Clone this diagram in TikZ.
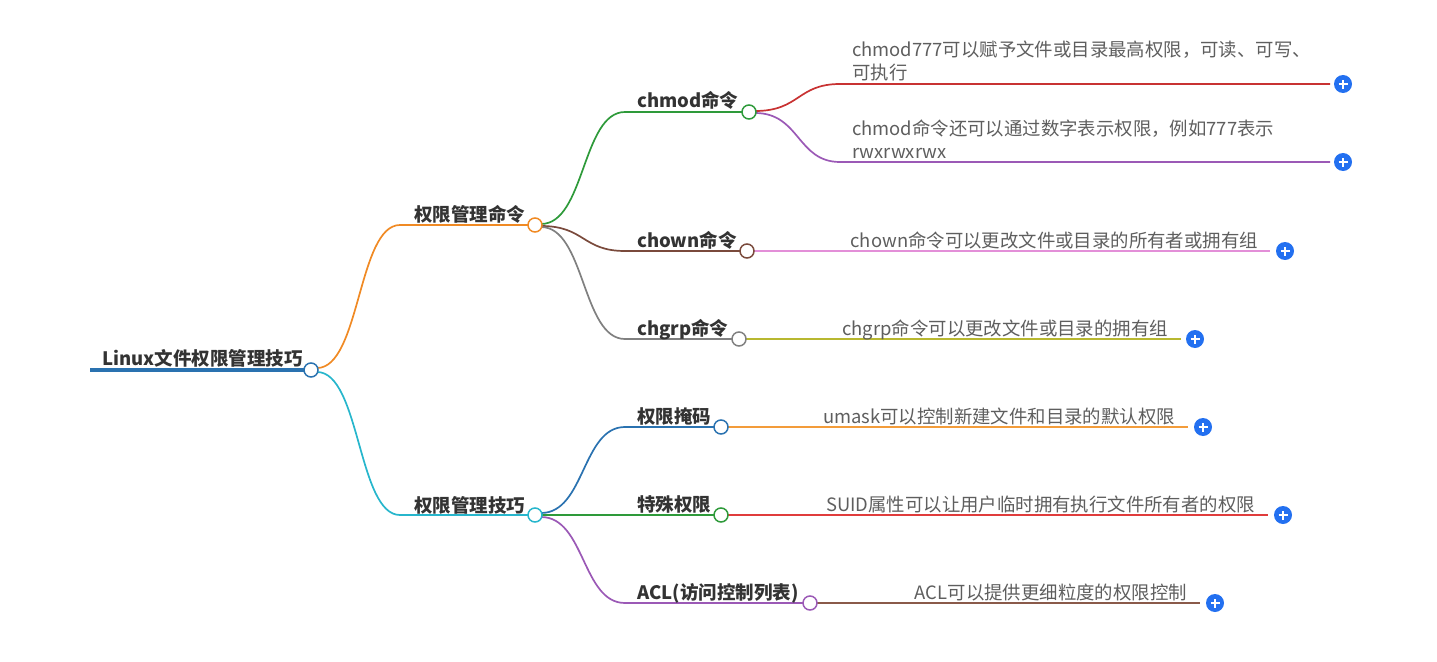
\documentclass[tikz,border=0pt]{standalone}
\usepackage{fontspec}
\setmainfont{Noto Sans CJK SC}
\definecolor{cblue}{HTML}{2A72B0}
\definecolor{corange}{HTML}{F08A24}
\definecolor{ccyan}{HTML}{27B6CC}
\definecolor{cgreen}{HTML}{2E9A3A}
\definecolor{cbrown}{HTML}{7A4A3C}
\definecolor{cgray}{HTML}{808080}
\definecolor{cred}{HTML}{C83232}
\definecolor{cpurple}{HTML}{9B59B6}
\definecolor{cpink}{HTML}{E38FD8}
\definecolor{colive}{HTML}{B8B830}
\definecolor{clorange}{HTML}{F39C3A}
\definecolor{clred}{HTML}{E03C3C}
\definecolor{clbrown}{HTML}{8A5A4A}
\definecolor{cplus}{HTML}{2370F0}
\definecolor{ctext}{HTML}{333333}
\definecolor{cleaf}{HTML}{5E5E5E}
\tikzset{
  dot/.style={circle, fill=white, line width=1.5pt, minimum size=14pt, inner sep=0pt},
  br/.style={line width=1.7pt},
  hd/.style={inner sep=0pt, anchor=base west, text=ctext, font=\fontsize{18.5}{23}\selectfont\bfseries},
  lf/.style={inner sep=0pt, anchor=base east, text=cleaf, font=\fontsize{18.4}{23}\selectfont},
  lfw/.style={inner sep=0pt, anchor=north west, text=cleaf, font=\fontsize{18.4}{23}\selectfont, align=left},
  plus/.style={circle, fill=cplus, minimum size=18pt, inner sep=0pt,
    path picture={\draw[white, line width=1.6pt] ([xshift=-4.5pt]path picture bounding box.center) -- ([xshift=4.5pt]path picture bounding box.center);
                  \draw[white, line width=1.6pt] ([yshift=-4.5pt]path picture bounding box.center) -- ([yshift=4.5pt]path picture bounding box.center);}},
}
\begin{document}
\begin{tikzpicture}[x=1pt, y=-1pt]
\useasboundingbox (0,0) rectangle (1437,661);
% ---------- coordinates ----------
\coordinate (r0) at (90,370);
\coordinate (a1s) at (400,225);
\coordinate (a2s) at (400,515);
\coordinate (b1s) at (625,112);
\coordinate (b2s) at (625,251);
\coordinate (b3s) at (625,339);
\coordinate (b4s) at (625,427);
\coordinate (b5s) at (625,515);
\coordinate (b6s) at (625,603);
\coordinate (l1s) at (840,84);
\coordinate (l2s) at (840,162);
% ---------- root ----------
\draw[cblue, line width=4.5pt] (r0) -- (311,370);
% level 1 curves
\draw[corange, br] (317,368) .. controls (360,368) and (358,225) .. (a1s) -- (535,225);
\draw[ccyan, br] (317,372) .. controls (360,372) and (358,515) .. (a2s) -- (535,515);
% level 2 curves
\draw[cgreen, br] (541,224) .. controls (585,224) and (582,112) .. (b1s) -- (749,112);
\draw[cbrown, br] (541,226) .. controls (585,226) and (582,251) .. (b2s) -- (747,251);
\draw[cgray, br] (541,227) .. controls (585,227) and (582,339) .. (b3s) -- (739,339);
\draw[cblue, br] (541,513) .. controls (585,513) and (582,427) .. (b4s) -- (721,427);
\draw[cgreen, br] (541,515) -- (b5s) -- (721,515);
\draw[cpurple, br] (541,517) .. controls (585,517) and (582,603) .. (b6s) -- (810,603);
% leaf curves and lines
\draw[cred, br] (755,111) .. controls (800,111) and (797,84) .. (l1s) -- (1330,84);
\draw[cpurple, br] (755,113) .. controls (800,113) and (797,162) .. (l2s) -- (1330,162);
\draw[cpink, br] (747,251) -- (1270,251);
\draw[colive, br] (739,339) -- (1181,339);
\draw[clorange, br] (721,427) -- (1188,427);
\draw[clred, br] (721,515) -- (1268,515);
\draw[clbrown, br] (810,603) -- (1200,603);
% ---------- circles ----------
\node[dot, draw=cblue] (c0) at (311,370) {};
\node[dot, draw=corange] (c1) at (535,225) {};
\node[dot, draw=ccyan] (c2) at (535,515) {};
\node[dot, draw=cgreen] (d1) at (749,112) {};
\node[dot, draw=cbrown] (d2) at (747,251) {};
\node[dot, draw=cgray] (d3) at (739,339) {};
\node[dot, draw=cblue] (d4) at (721,427) {};
\node[dot, draw=cgreen] (d5) at (721,515) {};
\node[dot, draw=cpurple] (d6) at (810,603) {};
% ---------- headings ----------
\node[hd] (t0) at (102,365) {Linux文件权限管理技巧};
\node[hd] (t1) at (414,221) {权限管理命令};
\node[hd] (t2) at (414,512) {权限管理技巧};
\node[hd] (s1) at (637,107) {chmod命令};
\node[hd] (s2) at (637,247) {chown命令};
\node[hd] (s3) at (637,335) {chgrp命令};
\node[hd] (s4) at (637,423) {权限掩码};
\node[hd] (s5) at (637,511) {特殊权限};
\node[hd] (s6) at (637,599) {ACL(访问控制列表)};
% ---------- leaves ----------
\node[lfw] (f1) at (852,41) {chmod777可以赋予文件或目录最高权限，可读、可写、\\可执行};
\node[lfw] (f2) at (852,120) {chmod命令还可以通过数字表示权限，例如777表示\\rwxrwxrwx};
\node[lf] (f3) at (1258,247) {chown命令可以更改文件或目录的所有者或拥有组};
\node[lf] (f4) at (1168,335) {chgrp命令可以更改文件或目录的拥有组};
\node[lf] (f5) at (1175,423) {umask可以控制新建文件和目录的默认权限};
\node[lf] (f6) at (1255,511) {SUID属性可以让用户临时拥有执行文件所有者的权限};
\node[lf] (f7) at (1187,599) {ACL可以提供更细粒度的权限控制};
% ---------- plus icons ----------
\node[plus] (p1) at (1343,84) {};
\node[plus] (p2) at (1343,162) {};
\node[plus] (p3) at (1285,251) {};
\node[plus] (p4) at (1195,339) {};
\node[plus] (p5) at (1203,427) {};
\node[plus] (p6) at (1283,515) {};
\node[plus] (p7) at (1215,603) {};
\end{tikzpicture}
\end{document}
